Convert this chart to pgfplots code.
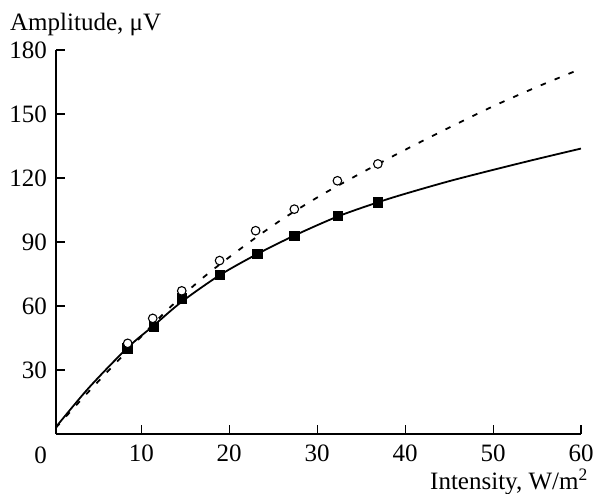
\documentclass[border=0pt]{standalone}
\usepackage{fontspec}
\setmainfont{Liberation Serif}
\usepackage{pgfplots}
\pgfplotsset{compat=1.18}
\begin{document}
\begin{tikzpicture}[font=\fontsize{25bp}{30bp}\selectfont]
\useasboundingbox (-56bp,-60bp) rectangle (541bp,434bp);
\begin{axis}[
 at={(0,0)}, anchor=south west,
 scale only axis, width=525bp, height=384bp,
 xmin=0.3, xmax=60, ymin=0, ymax=180,
 axis x line*=bottom, axis y line*=left,
 xtick={10,20,...,60}, ytick={30,60,...,180},
 tick align=inside, major tick length=9bp,
 tick style={line width=1.1bp, black},
 axis line style={line width=1.2bp, black},
 /pgf/number format/assume math mode=true,
 ticklabel style={font=\fontsize{25bp}{30bp}\selectfont},
 xticklabel style={inner sep=0pt, anchor=north, yshift=-11bp},
 yticklabel style={inner sep=0pt, anchor=east, xshift=-9bp},
 clip=false,
]
\addplot[black, line width=1.8bp, smooth, tension=0.5] coordinates {
 (0.3,3.3) (4,21.5) (8.4,40.3) (11.4,50.8) (14.6,62.0) (18.9,74.4) (23.2,84.4)
 (27.4,93.0) (32.3,101.9) (36.9,108.6) (40,112.6) (45,118.5) (50,123.8) (55,128.9) (60,133.8)};
\addplot[black, line width=1.8bp, dash pattern=on 5.5bp off 9.5bp, smooth, tension=0.5] coordinates {
 (0.3,3) (4,19.8) (8.5,39.3) (13,58.3) (17,73.2) (21.5,87.5) (26,100.6) (30.6,112.3)
 (35.3,123) (40,133.2) (45,143.6) (50,153.6) (55,162.7) (60,171.2)};
\addplot[only marks, mark=square*, mark size=4.7bp, mark options={fill=black, draw=black, line width=0.4bp}] coordinates {
 (8.4,40.3) (11.4,50.3) (14.6,63.6) (18.9,74.6) (23.2,84.4) (27.4,93.0) (32.3,102.2) (36.9,108.6)};
\addplot[only marks, mark=*, mark size=4.3bp, mark options={fill=white, draw=black, line width=1.1bp}] coordinates {
 (8.45,42.5) (11.3,54.2) (14.6,67.1) (18.9,81.3) (23.0,95.3) (27.4,105.4) (32.3,118.7) (36.9,126.6)};
\node[anchor=base west, xshift=-46bp, yshift=403bp, inner sep=0pt] at (rel axis cs:0,0) {Amplitude, μV};
\node[anchor=base east, xshift=7bp, yshift=-55bp, inner sep=0pt] at (rel axis cs:1,0) {Intensity, W/m\textsuperscript{2}};
\node[anchor=base east, xshift=-9bp, yshift=-29bp, inner sep=0pt] at (rel axis cs:0,0) {0};
\end{axis}
\end{tikzpicture}
\end{document}
